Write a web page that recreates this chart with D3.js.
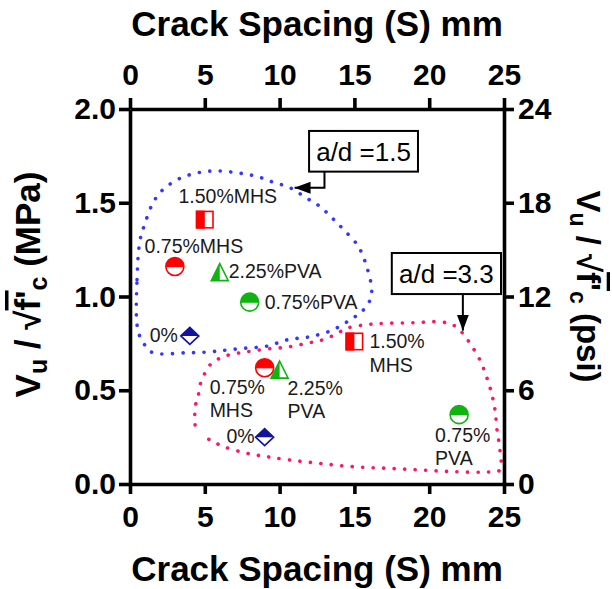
<!DOCTYPE html>
<html>
<head>
<meta charset="utf-8">
<script src="https://cdn.jsdelivr.net/npm/d3@7"></script>
<style>
  html, body { margin: 0; padding: 0; background: #fff; }
  svg { display: block; }
  text { font-family: "Liberation Sans", Arial, sans-serif; }
</style>
</head>
<body>
<div id="chart"></div>
<script>
// ---- data ----
const xTicks = [0, 5, 10, 15, 20, 25];
const yTicksMPa = [0, 0.5, 1.0, 1.5, 2.0];
const yTicksPsi = [0, 6, 12, 18, 24];

const mixes = ["0%", "0.75%MHS", "1.50%MHS", "0.75%PVA", "2.25%PVA"];
// a/d = 1.5
const spacing15 = [4, 3, 5, 8, 6];
const shear15 = [0.79, 1.16, 1.41, 0.97, 1.13];
// a/d = 3.3
const spacing33 = [9, 9, 15, 22, 10];
const shear33 = [0.25, 0.62, 0.76, 0.37, 0.61];

const labels15 = [["0%"], ["0.75%MHS"], ["1.50%MHS"], ["0.75%PVA"], ["2.25%PVA"]];
const labels33 = [["0%"], ["0.75%", "MHS"], ["1.50%", "MHS"], ["0.75%", "PVA"], ["2.25%", "PVA"]];

// hand drawn envelopes around each group
const env15X = [0.53, 0.47, 0.67, 1.0, 1.54, 2.2, 3.34, 4.55, 5.8, 7.15, 8.5, 9.56, 10.7, 11.8, 12.7, 13.5, 14.24, 15.24, 15.82, 16.16, 16.04, 15.5, 14.7, 13.5, 12.0, 10.56, 9.14, 7.8, 6.5, 5.35, 3.8, 1.54, 1.0];
const env15Y = [0.82, 1.09, 1.30, 1.39, 1.50, 1.57, 1.63, 1.66, 1.67, 1.66, 1.64, 1.61, 1.58, 1.525, 1.48, 1.42, 1.36, 1.27, 1.16, 1.035, 0.98, 0.92, 0.875, 0.82, 0.785, 0.77, 0.735, 0.725, 0.715, 0.705, 0.70, 0.70, 0.74];
const env33X = [4.35, 4.35, 4.55, 4.68, 5.0, 5.46, 6.0, 6.68, 7.8, 9.14, 10.47, 11.8, 12.92, 13.8, 14.48, 15.82, 17.16, 18.94, 20.72, 21.6, 22.17, 22.73, 23.4, 23.84, 24.18, 24.4, 24.53, 24.73, 24.73, 23.93, 21.6, 19.4, 17.16, 14.93, 12.7, 10.7, 9.14, 7.8, 6.24, 5.35, 4.68];
const env33Y = [0.315, 0.41, 0.465, 0.528, 0.59, 0.645, 0.67, 0.69, 0.705, 0.72, 0.73, 0.75, 0.77, 0.80, 0.83, 0.85, 0.857, 0.86, 0.865, 0.848, 0.81, 0.75, 0.66, 0.57, 0.48, 0.395, 0.29, 0.18, 0.075, 0.064, 0.066, 0.075, 0.084, 0.092, 0.11, 0.128, 0.146, 0.164, 0.2, 0.235, 0.26];

// ---- layout ----
const W = 612, H = 589;
const L = 130, R = 504, T = 109, B = 484;

const svg = d3.select("#chart").append("svg").attr("width", W).attr("height", H);

const x = d3.scaleLinear().domain([0, 25]).range([L, R]);
const y = d3.scaleLinear().domain([0, 2]).range([B, T]);
const yPsi = d3.scaleLinear().domain([0, 24]).range([B, T]);

// marker styles per mix
const markerShape = ["diamond", "circle", "square", "circle", "triangle"];
const markerColor = ["#13139e", "#ff0000", "#ff0000", "#10b410", "#10b410"];

// label layout per series (pixel offsets from the marker)
const place15 = [
  { dx: -12, dy: 6, anchor: "end" },
  { dx: 19, dy: -14, anchor: "middle" },
  { dx: 23, dy: -17, anchor: "middle" },
  { dx: 15, dy: 6.5, anchor: "start" },
  { dx: 9, dy: 5.5, anchor: "start" }
];
const place33 = [
  { dx: -10, dy: 6, anchor: "end" },
  { dx: -55, dy: 26, anchor: "start" },
  { dx: 15, dy: 6.5, anchor: "start" },
  { dx: -24, dy: 27, anchor: "start" },
  { dx: 8, dy: 25, anchor: "start" }
];

// envelopes
const dotted = (sel, color) => sel
  .attr("fill", "none")
  .attr("stroke", color)
  .attr("stroke-width", 3.6)
  .attr("stroke-linecap", "round")
  .attr("stroke-dasharray", "0.1 10.4");

const line15 = d3.line().x(d => x(d[0])).y(d => y(d[1])).curve(d3.curveCatmullRomClosed);
const line33 = d3.line().x(d => x(d[0])).y(d => y(d[1])).curve(d3.curveCatmullRom);

svg.append("path")
  .attr("d", line15(env15X.map((v, i) => [v, env15Y[i]])))
  .call(dotted, "#3636ff");
svg.append("path")
  .attr("d", line33(env33X.map((v, i) => [v, env33Y[i]])))
  .call(dotted, "#ff1466");

// annotation boxes with arrows
const annotations = [
  { text: "a/d =1.5", x0: 11.97, x1: 19.25, yTop: 1.883, yBot: 1.666, path: [[13.0, 1.666], [13.0, 1.58], [11.0, 1.58]] },
  { text: "a/d =3.3", x0: 17.5, x1: 24.8, yTop: 1.232, yBot: 1.013, path: [[22.25, 1.013], [22.25, 0.818]] }
];

svg.append("defs").append("marker")
  .attr("id", "arrow")
  .attr("viewBox", "0 0 16 12")
  .attr("refX", 16).attr("refY", 6)
  .attr("markerWidth", 16).attr("markerHeight", 12)
  .attr("markerUnits", "userSpaceOnUse")
  .attr("orient", "auto")
  .append("path").attr("d", "M0,0 L16,6 L0,12 Z").attr("fill", "#000");

annotations.forEach(a => {
  const g = svg.append("g");
  g.append("rect")
    .attr("x", x(a.x0)).attr("y", y(a.yTop))
    .attr("width", x(a.x1) - x(a.x0)).attr("height", y(a.yBot) - y(a.yTop))
    .attr("fill", "#fff").attr("stroke", "#000").attr("stroke-width", 2);
  g.append("text")
    .attr("x", (x(a.x0) + x(a.x1)) / 2)
    .attr("y", (y(a.yTop) + y(a.yBot)) / 2 + 9.5)
    .attr("text-anchor", "middle")
    .attr("font-size", 26)
    .attr("fill", "#000")
    .text(a.text);
  g.append("path")
    .attr("d", d3.line().x(d => x(d[0])).y(d => y(d[1]))(a.path))
    .attr("fill", "none").attr("stroke", "#000").attr("stroke-width", 2)
    .attr("marker-end", "url(#arrow)");
});

// half filled markers
function drawMarker(g, shape, color) {
  const s = 9;
  if (shape === "circle") {
    g.append("circle").attr("r", s).attr("fill", "#fff");
    g.append("path").attr("d", `M${-s},0 A${s},${s} 0 0 1 ${s},0 Z`).attr("fill", color);
    g.append("circle").attr("r", s).attr("fill", "none").attr("stroke", color).attr("stroke-width", 1.6);
    g.append("line").attr("x1", -s).attr("x2", s).attr("stroke", color).attr("stroke-width", 1.2);
  } else if (shape === "square") {
    g.append("rect").attr("x", -s).attr("y", -s).attr("width", 2 * s).attr("height", 2 * s).attr("fill", "#fff");
    g.append("rect").attr("x", -s).attr("y", -s).attr("width", s).attr("height", 2 * s).attr("fill", color);
    g.append("rect").attr("x", -s + 0.8).attr("y", -s + 0.8).attr("width", 2 * s - 1.6).attr("height", 2 * s - 1.6)
      .attr("fill", "none").attr("stroke", color).attr("stroke-width", 1.6);
  } else if (shape === "triangle") {
    const h = 17, w = 17;
    const top = -h / 2, bot = h / 2;
    g.append("path").attr("d", `M0,${top} L${w / 2},${bot} L${-w / 2},${bot} Z`).attr("fill", "#fff");
    g.append("path").attr("d", `M0,${top} L0,${bot} L${-w / 2},${bot} Z`).attr("fill", color);
    g.append("path").attr("d", `M0,${top} L${w / 2},${bot} L${-w / 2},${bot} Z`)
      .attr("fill", "none").attr("stroke", color).attr("stroke-width", 1.6).attr("stroke-linejoin", "miter");
  } else if (shape === "diamond") {
    const hw = 9, hh = 8.5;
    g.append("path").attr("d", `M${-hw},0 L0,${-hh} L${hw},0 L0,${hh} Z`).attr("fill", "#fff");
    g.append("path").attr("d", `M${-hw},0 L0,${-hh} L${hw},0 Z`).attr("fill", color);
    g.append("path").attr("d", `M${-hw},0 L0,${-hh} L${hw},0 L0,${hh} Z`)
      .attr("fill", "none").attr("stroke", color).attr("stroke-width", 1.6);
  }
}

function drawSeries(xs, ys, labels, place) {
  const grp = svg.append("g");
  mixes.forEach((m, i) => {
    const cx = x(xs[i]), cy = y(ys[i]);
    const g = grp.append("g").attr("transform", `translate(${cx},${cy})`);
    drawMarker(g, markerShape[i], markerColor[i]);
    const p = place[i];
    const t = grp.append("text")
      .attr("x", cx + p.dx).attr("y", cy + p.dy)
      .attr("text-anchor", p.anchor)
      .attr("font-size", 19.5)
      .attr("fill", "#1a1a1a");
    labels[i].forEach((ln, k) => {
      t.append("tspan").attr("x", cx + p.dx).attr("dy", k === 0 ? 0 : 23.7).text(ln);
    });
  });
}
drawSeries(spacing15, shear15, labels15, place15);
drawSeries(spacing33, shear33, labels33, place33);

// axes
const tickFont = 30;
function styleAxis(g) {
  g.selectAll("path.domain").attr("stroke", "#000").attr("stroke-width", 3.6);
  g.selectAll(".tick line").attr("stroke", "#000").attr("stroke-width", 3.6);
  g.selectAll(".tick text").attr("fill", "#000").attr("font-size", tickFont).attr("font-weight", "bold")
    .attr("font-family", "'Liberation Sans', Arial, sans-serif");
}

svg.append("g").attr("transform", `translate(0,${B})`)
  .call(d3.axisBottom(x).tickValues(xTicks).tickSize(10).tickSizeOuter(0).tickPadding(12).tickFormat(d3.format("d")))
  .call(styleAxis);
svg.append("g").attr("transform", `translate(0,${T})`)
  .call(d3.axisTop(x).tickValues(xTicks).tickSize(11).tickSizeOuter(0).tickPadding(13).tickFormat(d3.format("d")))
  .call(styleAxis);
svg.append("g").attr("transform", `translate(${L},0)`)
  .call(d3.axisLeft(y).tickValues(yTicksMPa).tickSize(11).tickSizeOuter(0).tickPadding(3).tickFormat(d3.format(".1f")))
  .call(styleAxis);
svg.append("g").attr("transform", `translate(${R},0)`)
  .call(d3.axisRight(yPsi).tickValues(yTicksPsi).tickSize(10).tickSizeOuter(0).tickPadding(4).tickFormat(d3.format("d")))
  .call(styleAxis);

// axis titles
const titleFont = 35;
const cx = (L + R) / 2, cy = (T + B) / 2;
svg.append("text").attr("x", cx).attr("y", 36).attr("text-anchor", "middle")
  .attr("font-size", titleFont).attr("font-weight", "bold").text("Crack Spacing (S) mm");
svg.append("text").attr("x", cx).attr("y", 581).attr("text-anchor", "middle")
  .attr("font-size", titleFont).attr("font-weight", "bold").text("Crack Spacing (S) mm");

function yTitle(tx, ty, rot, unit, size) {
  const sub = Math.round(size * 0.7);
  const t = svg.append("text")
    .attr("transform", `translate(${tx},${ty}) rotate(${rot})`)
    .attr("text-anchor", "middle")
    .attr("font-size", size).attr("font-weight", "bold");
  t.append("tspan").text("V");
  t.append("tspan").attr("font-size", sub).attr("dy", 7).text("u");
  t.append("tspan").attr("dy", -7).text(" / \u221A");
  t.append("tspan").attr("text-decoration", "overline").text("f'");
  t.append("tspan").attr("font-size", sub).attr("dy", 7).text("c");
  t.append("tspan").attr("dy", -7).text(" (" + unit + ")");
}
yTitle(40, cy - 12, -90, "MPa", 35);
yTitle(577, cy - 10, 90, "psi", 33);
</script>
</body>
</html>
